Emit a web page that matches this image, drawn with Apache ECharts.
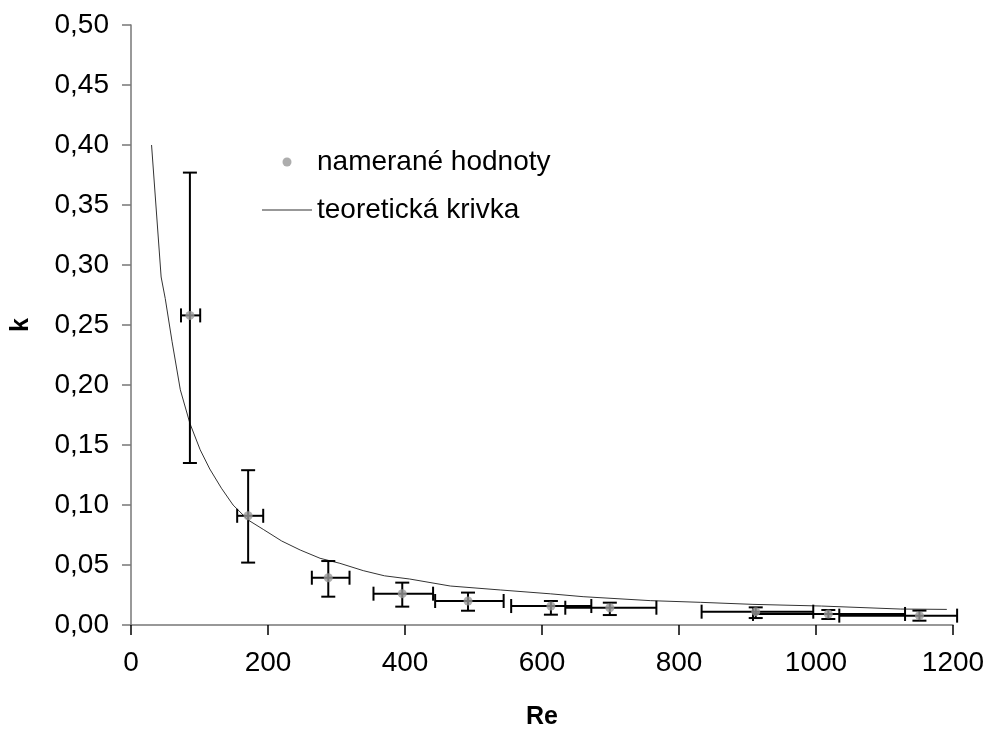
<!DOCTYPE html>
<html>
<head>
<meta charset="utf-8">
<script src="https://cdn.jsdelivr.net/npm/echarts@6/dist/echarts.min.js"></script>
<style>
  html, body { margin: 0; padding: 0; background: #fff; }
  #chart { width: 991px; height: 732px; }
</style>
</head>
<body>
<div id="chart"></div>
<script>
  // measured points with error bars
  const re = [86, 171, 288, 396, 492, 613, 699, 912, 1018, 1151]
  const k = [0.258, 0.091, 0.0394, 0.0261, 0.02, 0.0158, 0.0144, 0.0111, 0.0092, 0.0078]
  const reLow = [73, 155, 264, 354, 444, 555, 634, 833, 908, 1034]
  const reHigh = [101, 193, 319, 441, 544, 672, 767, 996, 1130, 1206]
  const kLow = [0.135, 0.052, 0.0236, 0.0153, 0.0119, 0.0086, 0.0083, 0.0058, 0.005, 0.0036]
  const kHigh = [0.377, 0.129, 0.0533, 0.0353, 0.027, 0.02, 0.0186, 0.0147, 0.0125, 0.012]

  // theoretical curve
  const curveRe = [30, 44, 50, 60, 72, 86, 101, 115, 132, 149, 171, 193, 220, 247, 276, 305, 339, 370, 407,
    466, 539, 612, 660, 758, 831, 908, 1008, 1123, 1191]
  const curveK = [0.4, 0.29, 0.272, 0.236, 0.196, 0.168, 0.146, 0.13, 0.114, 0.1, 0.0875, 0.0797, 0.07, 0.0625,
    0.0556, 0.0514, 0.0453, 0.041, 0.0383, 0.0325, 0.0292, 0.026, 0.0236, 0.0203, 0.0189, 0.0172, 0.0158,
    0.0133, 0.013]

  const xTicks = [0, 200, 400, 600, 800, 1000, 1200]
  const yTicks = [0, 0.05, 0.1, 0.15, 0.2, 0.25, 0.3, 0.35, 0.4, 0.45, 0.5]

  const font = 'Liberation Sans, Arial, sans-serif'
  const axisColor = '#777'

  const chart = echarts.init(document.getElementById('chart'), null, { renderer: 'canvas' })

  function errorBars(params, api) {
    const x = api.value(0)
    const y = api.value(1)
    const c = api.coord([x, y])
    const xl = api.coord([api.value(2), y])[0]
    const xh = api.coord([api.value(3), y])[0]
    const yl = api.coord([x, api.value(4)])[1]
    const yh = api.coord([x, api.value(5)])[1]
    const cap = 7
    const style = { stroke: '#000', lineWidth: 2 }
    const ln = (x1, y1, x2, y2) => ({ type: 'line', shape: { x1, y1, x2, y2 }, style })
    return {
      type: 'group',
      children: [
        ln(xl, c[1], xh, c[1]),
        ln(xl, c[1] - cap, xl, c[1] + cap),
        ln(xh, c[1] - cap, xh, c[1] + cap),
        ln(c[0], yl, c[0], yh),
        ln(c[0] - cap, yl, c[0] + cap, yl),
        ln(c[0] - cap, yh, c[0] + cap, yh),
      ],
    }
  }

  chart.setOption({
    animation: false,
    textStyle: { fontFamily: font },
    grid: { left: 131, right: 38, top: 25, bottom: 107, containLabel: false, outerBoundsMode: 'none' },
    legend: {
      orient: 'vertical',
      left: 257,
      top: 143,
      itemWidth: 50,
      itemHeight: 9,
      itemGap: 20,
      textStyle: { fontSize: 28, color: '#000', fontFamily: font },
      data: [
        { name: 'nameran\u00e9 hodnoty', icon: 'circle' },
        { name: 'teoretick\u00e1 krivka', icon: 'path://M0,0L50,0L50,1L0,1Z' },
      ],
    },
    xAxis: {
      type: 'value',
      min: xTicks[0],
      max: xTicks[xTicks.length - 1],
      interval: 200,
      name: 'Re',
      nameLocation: 'middle',
      nameGap: 80,
      nameTextStyle: { fontSize: 25, fontWeight: 'bold', color: '#000' },
      axisLine: { show: true, lineStyle: { color: axisColor, width: 1.5 } },
      axisTick: { show: true, length: 10, inside: false, lineStyle: { color: '#000', width: 1.5 } },
      axisLabel: { fontSize: 28, color: '#000', margin: 24, formatter: (v) => String(v) },
      splitLine: { show: false },
    },
    yAxis: {
      type: 'value',
      min: yTicks[0],
      max: yTicks[yTicks.length - 1],
      interval: 0.05,
      name: 'k',
      nameLocation: 'middle',
      nameGap: 97,
      nameRotate: 90,
      nameTextStyle: { fontSize: 25, fontWeight: 'bold', color: '#000' },
      axisLine: { show: true, lineStyle: { color: axisColor, width: 1.5 } },
      axisTick: { show: true, length: 9, inside: false, lineStyle: { color: axisColor, width: 1.5 } },
      axisLabel: {
        fontSize: 28,
        color: '#000',
        margin: 22,
        formatter: (v) => v.toFixed(2).replace('.', ','),
      },
      splitLine: { show: false },
    },
    series: [
      {
        name: 'teoretick\u00e1 krivka',
        type: 'line',
        data: curveRe.map((x, i) => [x, curveK[i]]),
        symbol: 'none',
        smooth: false,
        lineStyle: { color: '#333', width: 1 },
        itemStyle: { color: '#333' },
        z: 2,
      },
      {
        name: 'errors',
        type: 'custom',
        renderItem: errorBars,
        data: re.map((x, i) => [x, k[i], reLow[i], reHigh[i], kLow[i], kHigh[i]]),
        encode: { x: [0, 2, 3], y: [1, 4, 5] },
        clip: false,
        z: 3,
      },
      {
        name: 'nameran\u00e9 hodnoty',
        type: 'scatter',
        data: re.map((x, i) => [x, k[i]]),
        symbol: 'circle',
        symbolSize: 9,
        itemStyle: { color: '#999' },
        z: 4,
      },
    ],
  })
</script>
</body>
</html>
